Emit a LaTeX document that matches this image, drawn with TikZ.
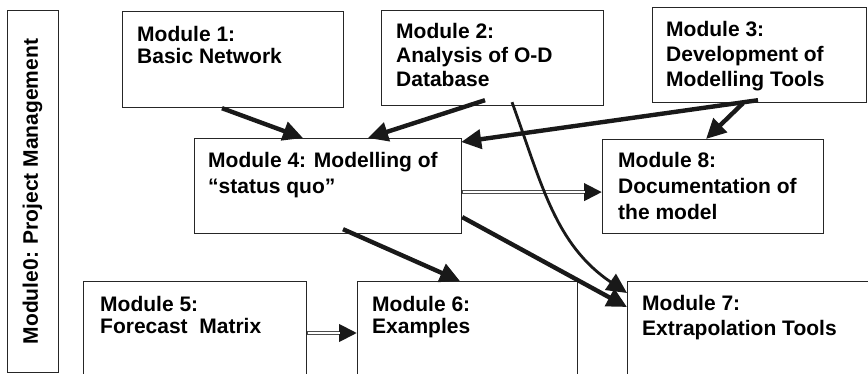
\documentclass[tikz,border=0pt]{standalone}
\usepackage{fontspec}
\setmainfont{Liberation Sans}
\usetikzlibrary{arrows.meta,calc}
\begin{document}
\begin{tikzpicture}[x=1pt,y=-1pt,
  box/.style={draw=black!85, line width=1.2pt, anchor=north west, inner sep=0pt, fill=none},
  lbl/.style={anchor=base west, align=left, inner sep=0pt, font=\bfseries\fontsize{21}{#1}\selectfont},
  lbl/.default=23,
  thick arrow/.style={line width=4.4pt, black!90, -{Triangle[length=20pt,width=19pt]}},
  thin arrow/.style={line width=2.8pt, black!90, -{Triangle[length=20pt,width=19pt]}},
  dbl outer/.style={line width=4pt, black!70, -{Triangle[length=18pt,width=17pt,color=black!90]}},
  dbl inner/.style={line width=1.4pt, white, shorten >=17pt, shorten <=0.6pt}
]
\useasboundingbox (0,0) rectangle (868,374);
\clip (0,0) rectangle (868,374);
\fill[white] (0,0) rectangle (868,374);
% boxes
\node[box, minimum width=51pt, minimum height=362pt] (m0) at (7,10) {};
\node[box, minimum width=221pt, minimum height=96pt] (m1) at (122,11) {};
\node[box, minimum width=222pt, minimum height=95pt] (m2) at (381,10) {};
\node[box, minimum width=214pt, minimum height=95pt] (m3) at (652,7) {};
\node[box, minimum width=267pt, minimum height=95pt] (m4) at (194,138) {};
\node[box, minimum width=221pt, minimum height=94pt] (m8) at (602,139) {};
\node[box, minimum width=223pt, minimum height=130pt] (m5) at (83,281) {};
\node[box, minimum width=220pt, minimum height=130pt] (m6) at (357,281) {};
\node[box, minimum width=280pt, minimum height=130pt] (m7) at (627,281) {};
% texts
\node[rotate=90, inner sep=0pt, font=\bfseries\fontsize{21}{24}\selectfont] (t0) at (32.6,191.5) {Module0: Project Management};
\node[lbl=22.3] (t1) at (137,64) {Module 1:\\Basic Network};
\node[lbl=24] (t2) at (396,87) {Module 2:\\Analysis of O-D\\Database};
\node[lbl=25] (t3) at (666,87) {Module 3:\\Development of\\Modelling Tools};
\node[lbl=26] (t4) at (208,194) {Module 4: Modelling of\\“status quo”};
\node[lbl=26] (t8) at (618,220) {Module 8:\\Documentation of\\the model};
\node[lbl=22.3] (t5) at (100,334) {Module 5:\\Forecast~ Matrix};
\node[lbl=22.3] (t6) at (372,334) {Module 6:\\Examples};
\node[lbl=25] (t7) at (642,335) {Module 7:\\Extrapolation Tools};
% connectors
\draw[thick arrow] ([xshift=100pt]m1.south west) -- ([xshift=109pt]m4.north west);
\draw[thick arrow] ([xshift=104pt,yshift=6pt]m2.south west) -- ([xshift=174pt]m4.north west);
\draw[thick arrow] ([xshift=106pt,yshift=3pt]m3.south west) -- ([xshift=-1pt,yshift=-4pt]m4.north east);
\draw[thick arrow] ([xshift=91pt]m3.south west) -- ([xshift=104pt]m8.north west);
\draw[dbl outer] ([yshift=-6pt]m4.east) -- ([yshift=-6pt]m4.east -| m8.west);
\draw[dbl inner] ([yshift=-6pt]m4.east) -- ([yshift=-6pt]m4.east -| m8.west);
\draw[thick arrow] ([xshift=149pt,yshift=5pt]m4.south west) -- ([xshift=103pt]m6.north west);
\draw[thick arrow] ([yshift=-31pt]m4.east) -- ([yshift=-26pt]m7.north west);
\draw[thin arrow] ([xshift=131pt,yshift=4pt]m2.south west) to[out=-70, in=146] ([yshift=-12pt]m7.north west);
\draw[dbl outer] ([yshift=-52pt]m5.north east) -- ([yshift=-52pt]m6.north west);
\draw[dbl inner] ([yshift=-52pt]m5.north east) -- ([yshift=-52pt]m6.north west);
\end{tikzpicture}
\end{document}
